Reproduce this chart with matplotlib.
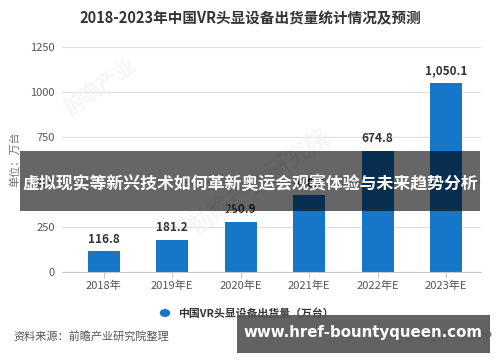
import matplotlib
matplotlib.use("Agg")
import matplotlib.pyplot as plt
from matplotlib.patches import Rectangle

plt.rcParams['font.family'] = ['Noto Sans CJK SC', 'DejaVu Sans']

# ---------------------------------------------------------------------------
# Data
# ---------------------------------------------------------------------------
years = ['2018年', '2019年E', '2020年E', '2021年E', '2022年E', '2023年E']
shipments = [116.8, 181.2, 280.9, 428.0, 674.8, 1050.1]
yticks = [0, 250, 500, 750, 1000, 1250]

title = '2018-2023年中国VR头显设备出货量统计情况及预测'
series_name = '中国VR头显设备出货量（万台）'
banner_text = '虚拟现实等新兴技术如何革新奥运会观赛体验与未来趋势分析'
source_text = '资料来源：前瞻产业研究院整理'
credit_text = '@前瞻经济学人APP'
site_text = 'www.href-bountyqueen.com'

BLUE = '#1677c8'
W, H = 500, 362

# ---------------------------------------------------------------------------
# Figure
# ---------------------------------------------------------------------------
fig = plt.figure(figsize=(W / 100, H / 100), dpi=100, facecolor='white')
ax = fig.add_axes([62 / W, 1 - 272.3 / H, 419 / W, (272.3 - 46.7) / H])

x = range(len(years))
ax.bar(x, shipments, width=0.47, color=BLUE, zorder=2)
for xi, v in zip(x, shipments):
    ax.text(xi, v + 30, f'{v:,.1f}', ha='center', va='bottom',
            fontsize=8.5, fontweight='bold', color='#333333', zorder=3)

ax.set_xlim(-0.61, 5.51)
ax.set_ylim(0, 1250)
ax.set_yticks(yticks)
ax.set_yticklabels([str(t) for t in yticks])
ax.set_xticks(list(x))
ax.set_xticklabels(years)
ax.grid(axis='y', color='#e0e0e0', linewidth=0.9, zorder=0)
for s in ['top', 'right', 'left']:
    ax.spines[s].set_visible(False)
ax.spines['bottom'].set_color('#c8c8c8')
ax.tick_params(axis='y', length=0, pad=5, labelsize=8, labelcolor='#555555')
ax.tick_params(axis='x', length=4, color='#c8c8c8', pad=2, labelsize=8,
               labelcolor='#555555')
ax.set_ylabel('单位：万台', fontsize=8, color='#777777')
ax.yaxis.set_label_coords(-0.1, 0.5)

# faint watermarks
fig.text(0.2, 0.76, '前瞻产业', fontsize=15, color='#f3f3f3', rotation=35,
         ha='center', va='center', zorder=0)
fig.text(0.52, 0.5, '前瞻产业研究院', fontsize=17, color='#f3f3f3', rotation=35,
         ha='center', va='center', zorder=0)

# title
fig.text(0.5, 1 - 18 / H, title, fontsize=10.5, fontweight='bold',
         color='#333333', ha='center', va='center')

# legend
fig.patches.append(plt.Circle((165 / W, 1 - 313 / H), 0.009, color=BLUE,
                              transform=fig.transFigure, figure=fig))
fig.text(178 / W, 1 - 313 / H, series_name, fontsize=7.8, fontweight='bold',
         color='#333333', ha='left', va='center')

# footer
fig.text(13 / W, 1 - 336 / H, source_text, fontsize=8, color='#555555',
         ha='left', va='center')
fig.text(492 / W, 1 - 336 / H, credit_text, fontsize=8, color='#555555',
         ha='right', va='center')

# overlay banner
fig.patches.append(Rectangle((20 / W, 1 - 211 / H), 460 / W, 60 / H,
                             transform=fig.transFigure, facecolor='black',
                             alpha=0.6, edgecolor='none', zorder=5))
fig.text(0.5, 1 - 184 / H, banner_text, fontsize=12.2, fontweight='bold',
         color='white', ha='center', va='center', zorder=6)

# site box
fig.patches.append(Rectangle((237 / W, 1 - 353 / H), 253 / W, 38 / H,
                             transform=fig.transFigure, facecolor='#555555',
                             alpha=0.92, edgecolor='none', zorder=5))
fig.text(363 / W, 1 - 332 / H, site_text, fontsize=10.8, fontweight='bold',
         color='white', ha='center', va='center', zorder=6,
         family='DejaVu Sans')

fig.savefig('out.png', dpi=100, facecolor='white')
